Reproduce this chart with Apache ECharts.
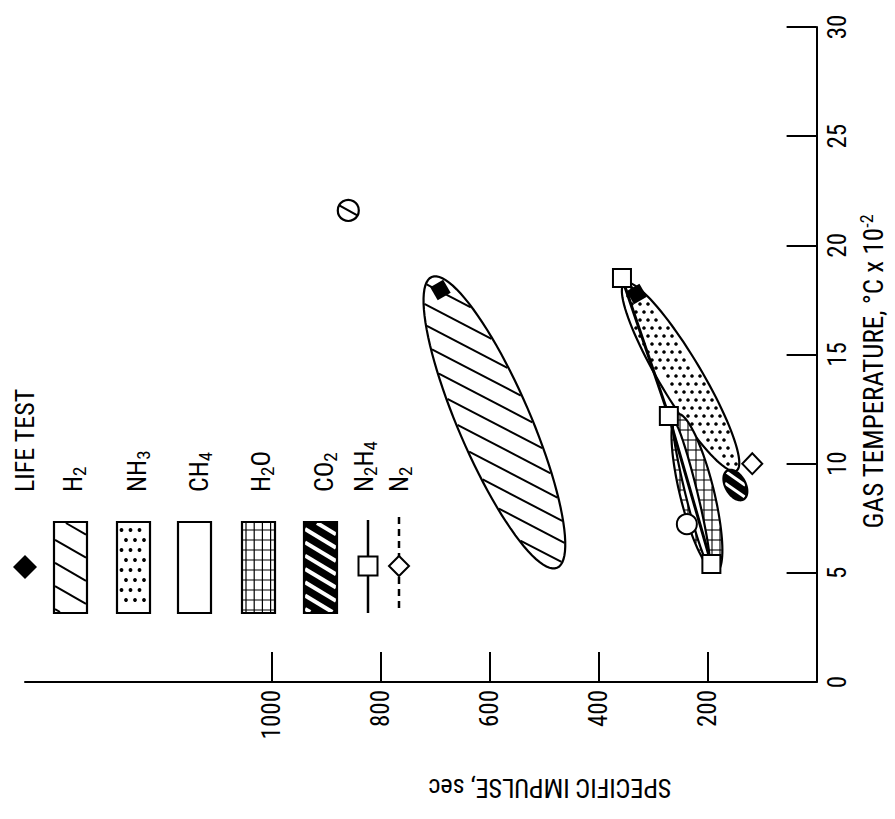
<!DOCTYPE html>
<html><head><meta charset="utf-8">
<script src="https://cdn.jsdelivr.net/npm/echarts@6/dist/echarts.min.js"></script>
<style>html,body{margin:0;padding:0;background:#fff}#c{width:895px;height:819px}</style>
</head><body><div id="c"></div>
<script>
// ---------- data: [gas temperature (°C x 10^-2), specific impulse (sec)] ----------
const impulseTicks = [200, 400, 600, 800, 1000];
const h2Region  = [[18.55, 706], [5.23, 476]];   // tips of the H2 envelope
const nh3Region = [[18.27, 352], [9.68, 147]];
const h2oRegion = [[12.27, 255], [5.05, 184]];
const ch4Region = [[11.95, 262], [5.41, 198]];
const co2Region = [[9.68, 164], [8.36, 134]];
const n2h4Points = [[18.5, 357], [12.18, 271], [5.41, 193]];
const n2Points = [[10.0, 118]];
const openCirclePoints = [[7.23, 238]];
const lifeTestPoints = [[17.95, 690], [17.77, 330]];
const slashedCirclePoints = [[21.6, 859]];
const legendLabels = ['LIFE TEST', 'H{s|2}', 'NH{s|3}', 'CH{s|4}', 'H{s|2}O', 'CO{s|2}', 'N{s|2}H{s|4}', 'N{s|2}'];

// ---------- styles ----------
const FONT = "'Liberation Sans Narrow','Roboto Condensed','DejaVu Sans Condensed','Arial Narrow','Liberation Sans',sans-serif";
const INK = '#000';
const regionStyles = {
  H2:  {halfWidth: 36, fill: '#fff', pattern: {type: 'hatch', angle: 27.5, spacing: 18.4, width: 2, color: INK}},
  NH3: {halfWidth: 21, fill: '#fff', pattern: {type: 'dots', sx: 8, sy: 8, r: 1.8, color: INK}},
  H2O: {halfWidth: 17, fill: '#fff', pattern: {type: 'grid', sx: 8, sy: 10, width: 1.1, color: INK}},
  CH4: {halfWidth: 6,  fill: '#fff', pattern: null},
  CO2: {halfWidth: 10, fill: '#000', pattern: {type: 'hatch', angle: 35, spacing: 10, width: 3, color: '#fff'}}
};

// ---------- shape helpers ----------
function ellipseShape(p1, p2, b) {
  const cx = (p1[0] + p2[0]) / 2, cy = (p1[1] + p2[1]) / 2;
  const dx = p2[0] - p1[0], dy = p2[1] - p1[1];
  const L = Math.hypot(dx, dy), a = L / 2;
  const e1 = [dx / L, dy / L], e2 = [-e1[1], e1[0]];
  return {
    c: [cx, cy], R: a, bbox: [cx - a, cy - a, cx + a, cy + a],
    clip(p, d, m) {
      m = m || 0;
      const A_ = a - m, B_ = b - m;
      const rx = p[0] - cx, ry = p[1] - cy;
      const px = (rx * e1[0] + ry * e1[1]) / A_, py = (rx * e2[0] + ry * e2[1]) / B_;
      const ddx = (d[0] * e1[0] + d[1] * e1[1]) / A_, ddy = (d[0] * e2[0] + d[1] * e2[1]) / B_;
      const A = ddx * ddx + ddy * ddy, B = 2 * (px * ddx + py * ddy), C = px * px + py * py - 1;
      const disc = B * B - 4 * A * C;
      if (disc <= 0) return null;
      const s = Math.sqrt(disc);
      return [(-B - s) / (2 * A), (-B + s) / (2 * A)];
    },
    inside(pt, m) {
      const rx = pt[0] - cx, ry = pt[1] - cy;
      const u = (rx * e1[0] + ry * e1[1]) / (a - m), v = (rx * e2[0] + ry * e2[1]) / (b - m);
      return u * u + v * v <= 1;
    },
    outline(n) {
      const pts = [];
      for (let i = 0; i < n; i++) {
        const t = 2 * Math.PI * i / n;
        pts.push([cx + e1[0] * a * Math.cos(t) + e2[0] * b * Math.sin(t),
                  cy + e1[1] * a * Math.cos(t) + e2[1] * b * Math.sin(t)]);
      }
      return pts;
    }
  };
}
function rectShape(x, y, w, h) {
  return {
    c: [x + w / 2, y + h / 2], R: Math.hypot(w, h) / 2, bbox: [x, y, x + w, y + h],
    clip(p, d, m) {
      m = m || 0;
      const lo = [x + m, y + m], hi = [x + w - m, y + h - m];
      let t0 = -Infinity, t1 = Infinity;
      for (let i = 0; i < 2; i++) {
        if (Math.abs(d[i]) < 1e-9) { if (p[i] < lo[i] || p[i] > hi[i]) return null; }
        else {
          let ta = (lo[i] - p[i]) / d[i], tb = (hi[i] - p[i]) / d[i];
          if (ta > tb) { const tmp = ta; ta = tb; tb = tmp; }
          t0 = Math.max(t0, ta); t1 = Math.min(t1, tb);
        }
      }
      return t0 < t1 ? [t0, t1] : null;
    },
    inside(pt, m) { return pt[0] >= x + m && pt[0] <= x + w - m && pt[1] >= y + m && pt[1] <= y + h - m; },
    outline() { return [[x, y], [x + w, y], [x + w, y + h], [x, y + h]]; }
  };
}
function hatchLines(shape, angleDeg, spacing, lw, color, inset) {
  const th = angleDeg * Math.PI / 180, d = [Math.cos(th), Math.sin(th)], n = [-d[1], d[0]];
  const nc = n[0] * shape.c[0] + n[1] * shape.c[1], R = shape.R;
  const out = [];
  for (let k = Math.ceil((nc - R) / spacing); k * spacing <= nc + R; k++) {
    const off = k * spacing, p = [n[0] * off, n[1] * off];
    const seg = shape.clip(p, d, inset);
    if (!seg) continue;
    out.push({type: 'line', silent: true,
      shape: {x1: p[0] + d[0] * seg[0], y1: p[1] + d[1] * seg[0], x2: p[0] + d[0] * seg[1], y2: p[1] + d[1] * seg[1]},
      style: {stroke: color, lineWidth: lw}});
  }
  return out;
}
function patternEls(shape, pat) {
  if (!pat) return [];
  if (pat.type === 'hatch') return hatchLines(shape, pat.angle, pat.spacing, pat.width, pat.color, 1);
  if (pat.type === 'grid') return hatchLines(shape, 0, pat.sy, pat.width, pat.color, 0.8)
      .concat(hatchLines(shape, 90, pat.sx, pat.width, pat.color, 0.8));
  if (pat.type === 'dots') {
    const out = [], bb = shape.bbox;
    const r0 = Math.floor(bb[1] / pat.sy), r1 = Math.ceil(bb[3] / pat.sy);
    for (let r = r0; r <= r1; r++) {
      const shift = (r % 2 === 0) ? 0 : pat.sx / 2;
      for (let c = Math.floor(bb[0] / pat.sx) - 1; c * pat.sx <= bb[2] + pat.sx; c++) {
        const pt = [c * pat.sx + shift, r * pat.sy];
        if (shape.inside(pt, pat.r + 2)) out.push({type: 'circle', silent: true,
          shape: {cx: pt[0], cy: pt[1], r: pat.r}, style: {fill: pat.color}});
      }
    }
    return out;
  }
  return [];
}
function shapeGroup(shape, st, npts) {
  const pts = shape.outline(npts);
  return [{type: 'polygon', silent: true, shape: {points: pts}, style: {fill: st.fill, stroke: 'none'}}]
    .concat(patternEls(shape, st.pattern))
    .concat([{type: 'polygon', silent: true, shape: {points: pts}, style: {fill: 'none', stroke: INK, lineWidth: 2.2}}]);
}
function regionRenderer(key) {
  return function (params, api) {
    const p1 = api.coord([api.value(0), api.value(1)]);
    const p2 = api.coord([api.value(2), api.value(3)]);
    const sh = ellipseShape(p1, p2, regionStyles[key].halfWidth);
    return {type: 'group', children: shapeGroup(sh, regionStyles[key], 96)};
  };
}
const regionItem = r => [[r[0][1], r[0][0], r[1][1], r[1][0]]];
const toXY = pts => pts.map(p => [p[1], p[0]]);

function regionSeries(name, key, region) {
  return {type: 'custom', name, coordinateSystem: 'cartesian2d', renderItem: regionRenderer(key),
    data: regionItem(region), encode: {x: [0, 2], y: [1, 3]}, silent: true, clip: false};
}

// ---------- legend (graphic) ----------
const legendGraphic = [];
const boxXs = [54, 117, 178, 242, 304];
const boxKeys = ['H2', 'NH3', 'CH4', 'H2O', 'CO2'];
const legendBoxStyles = {
  H2:  {fill: '#fff', pattern: {type: 'hatch', angle: 30, spacing: 20, width: 2, color: INK}},
  NH3: {fill: '#fff', pattern: {type: 'dots', sx: 9, sy: 10, r: 1.9, color: INK}},
  CH4: {fill: '#fff', pattern: null},
  H2O: {fill: '#fff', pattern: {type: 'grid', sx: 8.2, sy: 10, width: 1.2, color: INK}},
  CO2: {fill: '#000', pattern: {type: 'hatch', angle: 31, spacing: 11.4, width: 4, color: '#fff'}}
};
boxKeys.forEach((k, i) => {
  const sh = rectShape(boxXs[i], 522, 33, 91);
  shapeGroup(sh, legendBoxStyles[k], 4).forEach(el => legendGraphic.push(el));
});
legendGraphic.push({type: 'polygon', shape: {points: [[25, 555], [37, 567], [25, 579], [13, 567]]}, style: {fill: INK}});
legendGraphic.push({type: 'line', shape: {x1: 368, y1: 520, x2: 368, y2: 613}, style: {stroke: INK, lineWidth: 2.5}});
legendGraphic.push({type: 'rect', shape: {x: 358.5, y: 556.5, width: 19, height: 19}, style: {fill: '#fff', stroke: INK, lineWidth: 2}});
legendGraphic.push({type: 'line', shape: {x1: 399, y1: 517, x2: 399, y2: 613}, style: {stroke: INK, lineWidth: 2.5, lineDash: [7, 5]}});
legendGraphic.push({type: 'polygon', shape: {points: [[399, 556], [409, 566], [399, 576], [389, 566]]}, style: {fill: '#fff', stroke: INK, lineWidth: 2}});
const labelXs = [25, 73, 137, 199, 261, 324, 364, 399];
legendLabels.forEach((t, i) => {
  legendGraphic.push({type: 'text', x: labelXs[i], y: 492, rotation: Math.PI / 2,
    style: {text: t, fill: INK, fontSize: 26, fontFamily: FONT, textAlign: 'left', verticalAlign: 'middle', textVerticalAlign: 'middle',
      rich: {s: {fontSize: 19, fontFamily: FONT, fill: INK, padding: [13, 0, 0, 0]}}}});
});
legendGraphic.push({type: 'text', x: 550, y: 788, rotation: Math.PI,
  style: {text: 'SPECIFIC IMPULSE, sec', fill: INK, fontSize: 26, fontFamily: FONT, textAlign: 'center', verticalAlign: 'middle', textVerticalAlign: 'middle'}});

// ---------- chart ----------
const chart = echarts.init(document.getElementById('c'), null, {renderer: 'svg'});
const axisLineStyle = {color: INK, width: 2};
chart.setOption({
  animation: false,
  backgroundColor: '#fff',
  grid: {left: 25, right: 75, top: 27, bottom: 137},
  xAxis: {
    type: 'value', inverse: true, min: 0, max: 1452, position: 'bottom',
    axisLine: {show: true, onZero: false, lineStyle: axisLineStyle},
    axisTick: {show: true, inside: true, length: 30, customValues: impulseTicks, lineStyle: axisLineStyle},
    axisLabel: {customValues: impulseTicks, rotate: 90, margin: 8, fontSize: 25, fontFamily: FONT, color: INK,
      formatter: v => String(v)},
    splitLine: {show: false}
  },
  yAxis: {
    type: 'value', position: 'right', min: 0, max: 30, interval: 5,
    axisLine: {show: true, onZero: false, lineStyle: axisLineStyle},
    axisTick: {show: true, inside: true, length: 30, lineStyle: axisLineStyle},
    axisLabel: {rotate: 90, margin: 8, fontSize: 25, fontFamily: FONT, color: INK, formatter: v => String(v)},
    splitLine: {show: false},
    name: 'GAS TEMPERATURE, °C x 10{sup|-2}', nameLocation: 'middle', nameRotate: 90, nameGap: 30,
    nameTextStyle: {fontSize: 27, fontFamily: FONT, color: INK, padding: [0, 34, 0, 0],
      rich: {sup: {fontSize: 18, fontFamily: FONT, color: INK, padding: [0, 0, 14, 0]}}}
  },
  graphic: legendGraphic,
  series: [
    regionSeries('H2', 'H2', h2Region),
    regionSeries('NH3', 'NH3', nh3Region),
    regionSeries('H2O', 'H2O', h2oRegion),
    regionSeries('CH4', 'CH4', ch4Region),
    regionSeries('CO2', 'CO2', co2Region),
    {type: 'line', name: 'N2H4', data: toXY(n2h4Points), symbol: 'rect', symbolSize: 18, showAllSymbol: true,
      lineStyle: {color: INK, width: 3}, itemStyle: {color: '#fff', borderColor: INK, borderWidth: 2, opacity: 1}, silent: true},
    {type: 'scatter', name: 'N2', data: toXY(n2Points), symbol: 'diamond', symbolSize: [20, 21],
      itemStyle: {color: '#fff', borderColor: INK, borderWidth: 2, opacity: 1}, silent: true},
    {type: 'scatter', name: 'open circle', data: toXY(openCirclePoints), symbol: 'circle', symbolSize: 20,
      itemStyle: {color: '#fff', borderColor: INK, borderWidth: 2, opacity: 1}, silent: true},
    {type: 'scatter', name: 'LIFE TEST', data: toXY(lifeTestPoints), symbol: 'rect', symbolSize: 15, symbolRotate: 30,
      itemStyle: {color: INK, opacity: 1}, silent: true},
    {type: 'custom', name: 'slashed circle', coordinateSystem: 'cartesian2d', data: toXY(slashedCirclePoints), silent: true,
      renderItem(params, api) {
        const c = api.coord([api.value(0), api.value(1)]);
        return {type: 'group', children: [
          {type: 'circle', shape: {cx: c[0], cy: c[1], r: 10.5}, style: {fill: '#fff', stroke: INK, lineWidth: 2.2}},
          {type: 'line', shape: {x1: c[0] - 9, y1: c[1] - 5, x2: c[0] + 9, y2: c[1] + 5}, style: {stroke: INK, lineWidth: 2.2}}
        ]};
      }}
  ]
});
</script></body></html>
